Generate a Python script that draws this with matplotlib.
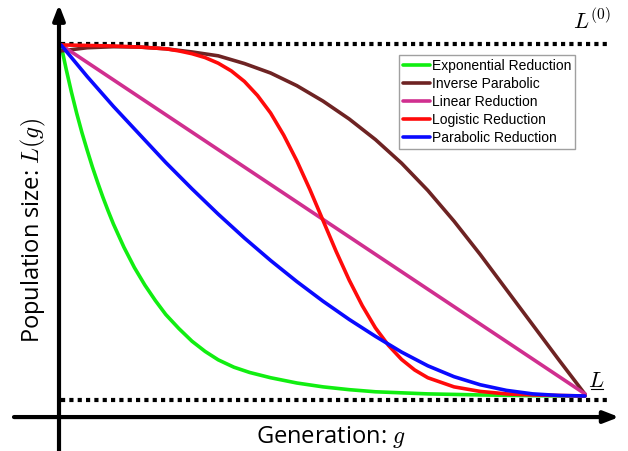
import matplotlib
matplotlib.use("Agg")
import matplotlib.pyplot as plt

# values: generation 0..100, population 0 (L) .. 100 (L0)
exp_g = [0, 1, 2, 3, 4, 5, 6, 7, 8, 9, 10, 12, 14, 16, 18, 20, 22.5, 25, 27.5, 30,
         33, 36, 40, 45, 50, 55, 60, 70, 80, 90, 100]
exp_L = [100, 93, 86.5, 80.5, 75, 70, 65.2, 60.8, 56.6, 52.7, 49, 42.4, 36.6, 31.6, 27.2,
         23.2, 19.2, 15.6, 12.7, 10.3, 8.2, 6.7, 5.2, 3.7, 2.6, 1.8, 1.2, 0.6, 0.3, 0.1, 0]

inv_g = [0, 5, 10, 15, 20, 25, 30, 35, 40, 45, 50, 55, 60, 65, 70, 75, 80, 85, 90, 95, 100]
inv_L = [98.3, 99.2, 99.5, 99.4, 98.9, 98.0, 96.9, 94.7, 92.0, 88.4, 84.0, 78.9, 73.05,
         66.3, 58.55, 49.8, 40.3, 30.3, 20.3, 10.3, 0.5]

lin_g = [0, 100]
lin_L = [100, 0.6]

log_g = [0, 10, 15, 20, 22.5, 25, 27.5, 30, 32.5, 35, 37.5, 40, 42.5, 45, 47.5, 50, 52.5,
         55, 57.5, 60, 62.5, 65, 67.5, 70, 75, 80, 85, 90, 100]
log_L = [100, 99.7, 99.4, 98.9, 98.3, 97.5, 96.4, 94.8, 92.6, 89.6, 85.6, 80.6, 74.3, 67.0,
         58.8, 50.0, 41.2, 33.0, 25.7, 19.4, 14.4, 10.4, 7.4, 5.2, 2.6, 1.3, 0.6, 0.3, 0]

par_g = [0, 5, 10, 15, 20, 25, 30, 35, 40, 45, 50, 55, 60, 65, 70, 75, 80, 85, 90, 95, 100]
par_L = [100, 91, 82.5, 74.5, 66.5, 59, 51.8, 45, 38.6, 32.6, 27, 21.8, 17.0, 12.5, 8.6,
         5.5, 3.2, 1.6, 0.6, 0.15, 0]

labels = ["Exponential Reduction", "Inverse Parabolic", "Linear Reduction",
          "Logistic Reduction", "Parabolic Reduction"]
colors = ["#11ee11", "#6e2323", "#d02f8f", "#ff0a0a", "#0a0aff"]

L0_level = 100.3
L_level = -1.1

plt.rcParams["mathtext.fontset"] = "cm"

fig = plt.figure(figsize=(6.28, 4.51), dpi=100)
ax = fig.add_axes([0, 0, 1, 1])
ax.set_xlim(-11.64, 108.2)
ax.set_ylim(-15.67, 112.8)
ax.axis("off")

# dotted bounds
ax.plot([0, 104.2], [L0_level, L0_level], color="black", lw=3, ls=(0, (1, 1)))
ax.plot([0, 104.7], [L_level, L_level], color="black", lw=3, ls=(0, (1, 1)))

series = [(exp_g, exp_L), (inv_g, inv_L), (lin_g, lin_L), (log_g, log_L), (par_g, par_L)]
for (g, L), lab, c in zip(series, labels, colors):
    ax.plot(g, L, color=c, lw=2.6, label=lab, solid_capstyle="round", solid_joinstyle="round")

# axes with arrow heads
arrow = dict(arrowstyle="-|>,head_length=0.9,head_width=0.35", color="black", lw=3,
             shrinkA=0, shrinkB=0)
ax.annotate("", xy=(-0.38, 111.5), xytext=(-0.38, -15.67), arrowprops=arrow)
ax.annotate("", xy=(106.5, -6.0), xytext=(-8.97, -6.0), arrowprops=arrow)

ax.text(-5.34, 47.0, "Population size: $L(g)$", rotation=90, ha="center", va="center",
        fontsize=17, family="Open Sans")
ax.text(51.5, -11.6, "Generation: $g$", ha="center", va="center",
        fontsize=17, family="Open Sans")
ax.text(101.3, 107.0, "$L^{(0)}$", ha="center", va="center", fontsize=16)
ax.text(102.2, 4.3, "$L$", ha="center", va="center", fontsize=16)
ax.plot([101.1, 103.4], [2.0, 2.0], color="black", lw=0.8)

leg = ax.legend(loc="upper left", bbox_to_anchor=(399 / 628, 1 - 55 / 451),
                bbox_transform=fig.transFigure, prop={"family": "Liberation Sans", "size": 10},
                handlelength=1.9, handletextpad=0.15, labelspacing=0.28, borderpad=0.3,
                borderaxespad=0, fancybox=False, frameon=True)
leg.get_frame().set_edgecolor("#888888")
leg.get_frame().set_linewidth(1.0)

fig.savefig("out.png", dpi=100)
